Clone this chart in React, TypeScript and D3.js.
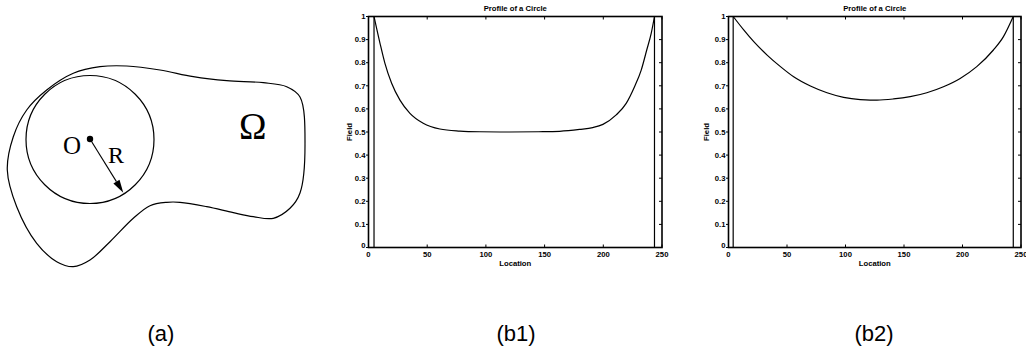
import React from "react";
import * as d3 from "d3";

// ---- data ----
const xTicks = [0, 50, 100, 150, 200, 250];
const yTicks = [0, 0.1, 0.2, 0.3, 0.4, 0.5, 0.6, 0.7, 0.8, 0.9, 1];
const yTickLabels = ["0", "0.1", "0.2", "0.3", "0.4", "0.5", "0.6", "0.7", "0.8", "0.9", "1"];

const b1Location = [4.7, 9.8, 14, 19.7, 26.8, 35.3, 46.6, 60.8, 77.8, 94.8, 120, 145, 162.8, 179.8, 191, 199.7, 211, 219.5, 226.6, 232.3, 237, 240.8, 243.6];
const b1Field = [1.0, 0.884, 0.797, 0.711, 0.638, 0.581, 0.538, 0.513, 0.504, 0.501, 0.5, 0.501, 0.503, 0.511, 0.519, 0.533, 0.574, 0.624, 0.696, 0.768, 0.855, 0.927, 1.0];

const b2Location = [4, 13, 21.6, 33, 44.4, 55.7, 70, 84.2, 98.4, 112.6, 121, 126.9, 141, 155.3, 169.5, 183.7, 198, 212.2, 226.4, 235, 243.4];
const b2Field = [1.0, 0.942, 0.891, 0.833, 0.783, 0.739, 0.699, 0.67, 0.65, 0.64, 0.638, 0.638, 0.643, 0.653, 0.67, 0.696, 0.732, 0.783, 0.855, 0.913, 1.0];

const panelLabels = ["(a)", "(b1)", "(b2)"];

// outline of the domain in sketch (a)
const domainOutline: [number, number][] = [
  [100, 66.7], [126.7, 66], [160, 70], [193.3, 76.7], [226.7, 80.7], [263.3, 82.7], [286.7, 86.7],
  [300, 97], [305, 145], [300, 193], [290, 208.3], [273.3, 218.3], [253.3, 216.7], [233.3, 212.7],
  [206.7, 206.7], [180, 202.3], [166.7, 202.3], [150, 205.7], [133.3, 218.3], [110, 241.7],
  [90, 260], [73.3, 266.7], [56.7, 261.7], [36.7, 243.3], [16.7, 206.7], [7.3, 170], [13.3, 136.7],
  [26.7, 110], [46.7, 90], [73.3, 73.3],
];

const FONT = "'Liberation Sans', Arial, Helvetica, sans-serif";
const SERIF = "'Liberation Serif', 'Times New Roman', serif";

function Plot({ x0, x1, loc, field, labelX }: { x0: number; x1: number; loc: number[]; field: number[]; labelX: number }) {
  const top = 16.5, bottom = 247.5;
  const x = d3.scaleLinear().domain([0, 250]).range([x0, x1]);
  const y = d3.scaleLinear().domain([0, 1]).range([bottom, top]);
  const pts = loc.map((l, i) => [l, field[i]] as [number, number]);
  const curve = d3.line<[number, number]>().x(d => x(d[0])).y(d => y(d[1])).curve(d3.curveMonotoneX)(pts) || "";
  const first = pts[0], last = pts[pts.length - 1];
  const edge = d3.line<[number, number]>().x(d => x(d[0])).y(d => y(d[1]));
  const leftEdge = edge([[first[0], 0], first]) || "";
  const rightEdge = edge([last, [last[0], 0]]) || "";
  const tl = 3;
  return (
    <g>
      <text x={(x0 + x1) / 2} y={10.5} textAnchor="middle" fontFamily={FONT} fontWeight="bold" fontSize={7.7}>Profile of a Circle</text>
      {xTicks.map(t => (
        <g key={"x" + t}>
          <line x1={x(t)} x2={x(t)} y1={bottom} y2={bottom - tl} stroke="#000" strokeWidth={1} />
          <line x1={x(t)} x2={x(t)} y1={top} y2={top + tl} stroke="#000" strokeWidth={1} />
          <text x={x(t)} y={256.5} textAnchor="middle" fontFamily={FONT} fontWeight="bold" fontSize={7.7}>{t}</text>
        </g>
      ))}
      {yTicks.map((t, i) => (
        <g key={"y" + t}>
          <line x1={x0} x2={x0 - 2.5} y1={y(t)} y2={y(t)} stroke="#000" strokeWidth={1} />
          <line x1={x1} x2={x1 - tl} y1={y(t)} y2={y(t)} stroke="#000" strokeWidth={1} />
          <text x={x0 - 3} y={y(t) + (t === 0 ? 0 : 2.7)} textAnchor="end" fontFamily={FONT} fontWeight="bold" fontSize={7.7}>{yTickLabels[i]}</text>
        </g>
      ))}
      <rect x={x0} y={top} width={x1 - x0} height={bottom - top} fill="none" stroke="#000" strokeWidth={1.6} />
      <path d={curve} fill="none" stroke="#000" strokeWidth={1.2} />
      <path d={leftEdge} fill="none" stroke="#000" strokeWidth={1.2} />
      <path d={rightEdge} fill="none" stroke="#000" strokeWidth={1.2} />
      <text x={(x0 + x1) / 2} y={266} textAnchor="middle" fontFamily={FONT} fontWeight="bold" fontSize={7.7}>Location</text>
      <text transform={`translate(${labelX},${(top + bottom) / 2}) rotate(-90)`} textAnchor="middle" fontFamily={FONT} fontWeight="bold" fontSize={7.7}>Field</text>
    </g>
  );
}

function Sketch() {
  const outline = d3.line().curve(d3.curveCatmullRomClosed.alpha(0.5))(domainOutline) || "";
  const cx = 90, cy = 139.5, r = 64;
  const ax0 = 90, ay0 = 139, ax1 = 123.3, ay1 = 192.7;
  const ang = Math.atan2(ay1 - ay0, ax1 - ax0);
  const hl = 13, hw = 3.6;
  const bx = ax1 - hl * Math.cos(ang), by = ay1 - hl * Math.sin(ang);
  const head = [
    [ax1, ay1],
    [bx + hw * Math.sin(ang), by - hw * Math.cos(ang)],
    [bx - hw * Math.sin(ang), by + hw * Math.cos(ang)],
  ].map(p => p.join(",")).join(" ");
  return (
    <g>
      <path d={outline} fill="none" stroke="#000" strokeWidth={1.2} />
      <circle cx={cx} cy={cy} r={r} fill="none" stroke="#000" strokeWidth={1.2} />
      <circle cx={ax0} cy={ay0} r={3.2} fill="#000" />
      <line x1={ax0} y1={ay0} x2={bx} y2={by} stroke="#000" strokeWidth={1.1} />
      <polygon points={head} fill="#000" />
      <text x={63} y={154} fontFamily={SERIF} fontSize={25}>O</text>
      <text x={108} y={162.7} fontFamily={SERIF} fontSize={24}>R</text>
      <text x={239} y={139} fontFamily={SERIF} fontSize={37}>Ω</text>
    </g>
  );
}

export default function App() {
  const labelXs = [161, 516, 874];
  return (
    <svg width={1026} height={358} style={{ position: "absolute", left: 0, top: 0, background: "#fff", display: "block" }}>
      <rect x={0} y={0} width={1026} height={358} fill="#fff" />
      <Sketch />
      <Plot x0={368.5} x1={662} loc={b1Location} field={b1Field} labelX={352} />
      <Plot x0={728.5} x1={1021} loc={b2Location} field={b2Field} labelX={708.7} />
      {panelLabels.map((l, i) => (
        <text key={l} x={labelXs[i]} y={341} textAnchor="middle" fontFamily={FONT} fontSize={22}>{l}</text>
      ))}
    </svg>
  );
}
